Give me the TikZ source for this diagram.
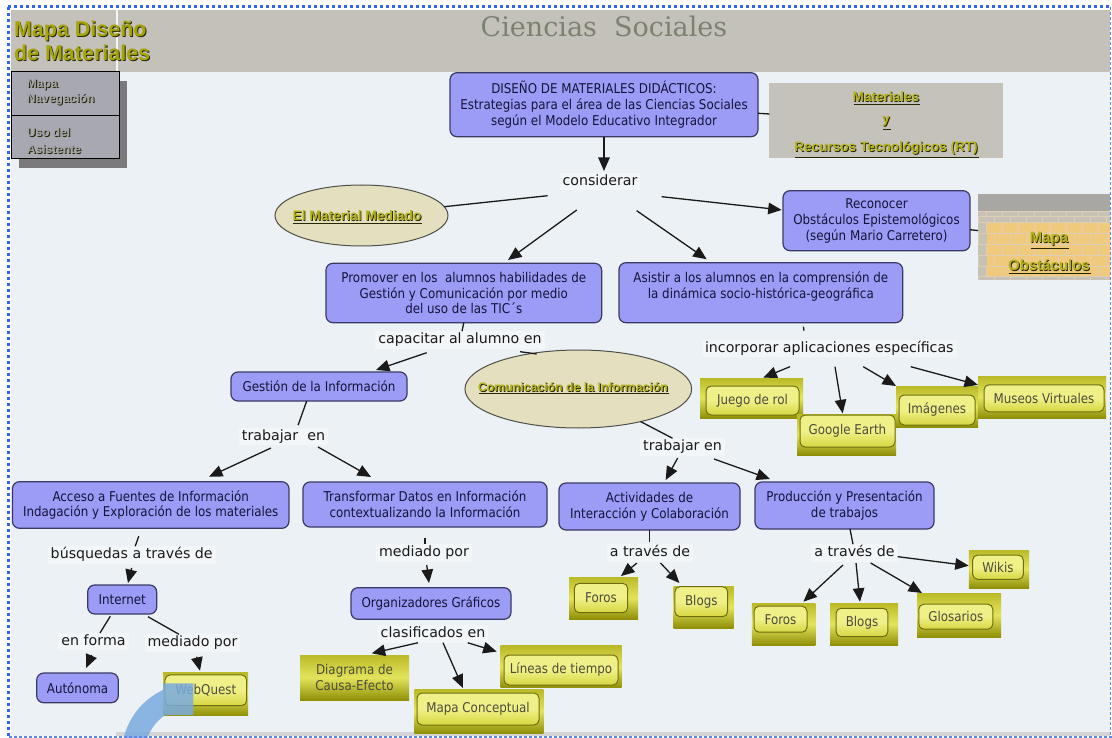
\documentclass[tikz,border=0pt]{standalone}
\usepackage{fontspec}
\setmainfont{DejaVu Sans}
\newfontfamily\sansfam{DejaVu Sans}
\newfontfamily\sanscond[FakeStretch=0.88]{DejaVu Sans}
\newfontfamily\seriffam{DejaVu Serif}
\newfontfamily\arialfam{Liberation Sans}
\usetikzlibrary{arrows.meta,shapes.geometric}

\definecolor{canvas}{HTML}{EBF1F4}
\definecolor{headergray}{HTML}{C4C1BB}
\definecolor{boxfill}{HTML}{9C9CF7}
\definecolor{boxedge}{HTML}{3A3A66}
\definecolor{boxtext}{HTML}{14143A}
\definecolor{linkbg}{HTML}{F2F6F8}
\definecolor{inktext}{HTML}{1A1A1A}
\definecolor{linecol}{HTML}{1A1A1A}
\definecolor{ellfill}{HTML}{E4DFBF}
\definecolor{elledge}{HTML}{505048}
\definecolor{olivelink}{HTML}{B4B41A}
\definecolor{olivehead}{HTML}{A5A508}
\definecolor{embossdark}{HTML}{262600}
\definecolor{titlegray}{HTML}{7C8170}
\definecolor{ytop}{HTML}{BABA28}
\definecolor{ymid}{HTML}{E4E45C}
\definecolor{ybot}{HTML}{909008}
\definecolor{yintop}{HTML}{F0F088}
\definecolor{yinbot}{HTML}{D6D640}
\definecolor{yinedge}{HTML}{6E6E10}
\definecolor{ytext}{HTML}{4C4C3A}
\definecolor{menufill}{HTML}{A7A8B2}
\definecolor{menushade}{HTML}{7A7A7C}
\definecolor{menutext}{HTML}{A2A2AA}
\definecolor{framedot}{HTML}{3366F0}
\definecolor{framedash}{HTML}{5F86EA}
\definecolor{strip}{HTML}{D4D4D4}
\definecolor{overlayblue}{HTML}{7AAAE0}
\definecolor{obsband}{HTML}{A9A7A3}
\definecolor{obsbrick}{HTML}{C8C2B6}
\definecolor{obstan}{HTML}{F1C97C}
\definecolor{brickline}{HTML}{DCCFB6}
\definecolor{matgray}{HTML}{C5C2BC}

% text with a dark drop shadow
\newcommand\embossed[7]{%
  \node[anchor=#2, font=#5, text=embossdark, inner sep=0pt] (#1-s) at (#3+1,#4+1) {#7};
  \node[anchor=#2, font=#5, text=#6, inner sep=0pt] (#1) at (#3,#4) {#7};}
% underlined hyperlink label with a dark drop shadow
\newcommand\embossedlink[5]{%
  \node[anchor=base, inner sep=0pt, text=embossdark,
        font=\arialfam\bfseries\fontsize{#4}{#4}\selectfont]
        (#1-s) at (#2+0.9, #3+0.36*#4+0.9) {\underline{#5}};
  \node[anchor=base, inner sep=0pt, text=olivelink,
        font=\arialfam\bfseries\fontsize{#4}{#4}\selectfont]
        (#1) at (#2, #3+0.36*#4) {#5};}

\begin{document}
\begin{tikzpicture}[x=1pt, y=-1pt, every node/.style={outer sep=0pt},
  bluebox/.style={rectangle, rounded corners=7pt, draw=boxedge, line width=1.2pt,
    fill=boxfill, text=boxtext, align=center, inner sep=0pt,
    font=\sanscond\fontsize{13.5}{15.8}\selectfont},
  linkph/.style={rectangle, fill=linkbg, text=inktext, inner xsep=3pt, inner ysep=2pt,
    text height=10.5pt, text depth=3pt, font=\sansfam\fontsize{14.2}{16}\selectfont},
  ellnode/.style={ellipse, draw=elledge, line width=1pt, fill=ellfill, inner sep=0pt},
  graybox/.style={rectangle, fill=matgray, inner sep=0pt},
  menubox/.style={rectangle, draw=black, line width=1pt, fill=menufill, inner sep=0pt},
  youter/.style={rectangle, inner sep=0pt, top color=ytop, bottom color=ybot, middle color=ymid,
    text=ytext, align=center, font=\sanscond\fontsize{13.5}{15.5}\selectfont},
  yinner/.style={rectangle, rounded corners=5pt, draw=yinedge, line width=1pt, inner sep=0pt,
    top color=yintop, bottom color=yinbot, middle color=yintop,
    text=ytext, align=center, font=\sanscond\fontsize{13.5}{15.5}\selectfont},
  ln/.style={draw=linecol, line width=1.3pt},
  arr/.style={ln, -{Triangle[length=13.5pt, width=11.5pt]}}]

\useasboundingbox (0,0) rectangle (1112,738);
\fill[white] (0,0) rectangle (1112,738);
\fill[canvas] (11,10) rectangle (1110,736);
\fill[headergray] (11,10) rectangle (1110,72);
\fill[white!85!headergray] (116,10) rectangle (118,72);
\fill[strip] (116,731.5) rectangle (1110,735.5);

% ---------- header ----------
\node[anchor=base, inner sep=0pt, text=titlegray, font=\seriffam\fontsize{27}{30}\selectfont]
  (title) at (604,37) {Ciencias\ \ Sociales};
\embossed{hdrA}{base west}{14}{37}{\arialfam\bfseries\fontsize{21.5}{24}\selectfont}{olivehead}{Mapa Diseño}
\embossed{hdrB}{base west}{14}{61}{\arialfam\bfseries\fontsize{21.5}{24}\selectfont}{olivehead}{de Materiales}

% ---------- side menu ----------
\fill[menushade] (19,81) rectangle (127,168);
\node[menubox, minimum width=108, minimum height=44] (nav) at (65,94) {};
\node[menubox, minimum width=108, minimum height=43] (helper) at (65,137.5) {};
\embossed{navA}{base west}{27}{88}{\arialfam\bfseries\fontsize{12}{14}\selectfont}{menutext}{Mapa}
\embossed{navB}{base west}{27}{103}{\arialfam\bfseries\fontsize{12}{14}\selectfont}{menutext}{Navegación}
\embossed{helpA}{base west}{27}{137}{\arialfam\bfseries\fontsize{12}{14}\selectfont}{menutext}{Uso del}
\embossed{helpB}{base west}{27}{154}{\arialfam\bfseries\fontsize{12}{14}\selectfont}{menutext}{Asistente}

% ---------- concepts ----------
\node[bluebox, minimum width=308, minimum height=64] (main) at (604,104.7)
  {DISEÑO DE MATERIALES DIDÁCTICOS:\\Estrategias para el área de las Ciencias Sociales\\según el Modelo Educativo Integrador};

\node[graybox, minimum width=234, minimum height=75.6] (materiales) at (886.3,120.5) {};
\embossedlink{matA}{886}{96.7}{13.6}{Materiales}
\embossedlink{matB}{886}{119}{13.6}{y}
\embossedlink{matC}{886}{146.7}{13.6}{Recursos Tecnológicos (RT)}

\node[linkph] (considerar) at (600,181.7) {considerar};

\node[ellnode, minimum width=173, minimum height=61] (material) at (361.5,215.5) {};
\embossedlink{materialtxt}{357}{216}{13.8}{El Material Mediado}

\node[bluebox, minimum width=187, minimum height=60] (reconocer) at (876.5,220.7)
  {Reconocer\\Obstáculos Epistemológicos\\(según Mario Carretero)};

% brick panel
\node[minimum width=134, minimum height=86, inner sep=0pt] (mapaobs) at (1045,237) {};
\begin{scope}
  \clip (978,194) rectangle (1110,280);
  \fill[obsband] (978,194) rectangle (1112,211);
  \fill[obsbrick] (978,211) rectangle (1112,280);
  \fill[obstan] (987,222) rectangle (1112,276.5);
  \foreach \ya/\yb [count=\k] in {211/216.5,216.5/222,222/233,233/244,244/255,255/266,266/276.5,276.5/280} {
    \draw[brickline, line width=0.8pt] (978,\ya) -- (1112,\ya);
    \pgfmathsetmacro\brickoff{mod(\k,2)*8}
    \foreach \i in {0,...,8} {
      \draw[brickline, line width=0.8pt] (978+\brickoff+16*\i,\ya) -- (978+\brickoff+16*\i,\yb);
    }
  }
\end{scope}
\embossedlink{obsA}{1049}{237.3}{15}{Mapa}
\embossedlink{obsB}{1049}{265}{15}{Obstáculos}

\node[bluebox, minimum width=275.7, minimum height=59.4] (promover) at (463.8,293)
  {Promover en los\ \ alumnos habilidades de\\Gestión y Comunicación por medio\\del uso de las TIC´s};
\node[bluebox, minimum width=283.7, minimum height=60] (asistir) at (760.8,292.7)
  {Asistir a los alumnos en la comprensión de\\la dinámica socio-histórica-geográfica\\\mbox{}};

\node[linkph] (capacitar) at (460,340) {capacitar al alumno en};
\node[linkph] (incorporar) at (829.3,348.3) {incorporar aplicaciones específicas};

\node[bluebox, minimum width=176, minimum height=29] (gestion) at (319,386.5) {Gestión de la Información};
\node[ellnode, minimum width=226.7, minimum height=78] (comunicacion) at (578.3,389) {};
\embossedlink{comtxt}{573}{386.7}{12.3}{Comunicación de la Información}

% applications
\node[youter, minimum width=103, minimum height=40] (juego) at (751.5,398) {};
\node[yinner, minimum width=93, minimum height=29] (juego-in) at (752.5,400.5) {Juego de rol};
\node[youter, minimum width=99, minimum height=41] (google) at (846.5,434.5) {};
\node[yinner, minimum width=95, minimum height=32] (google-in) at (847.5,431) {Google Earth};
\node[youter, minimum width=82, minimum height=41] (imagenes) at (937,406.5) {};
\node[yinner, minimum width=76, minimum height=30] (imagenes-in) at (937,410) {Imágenes};
\node[youter, minimum width=128, minimum height=42] (museos) at (1042,397) {};
\node[yinner, minimum width=120, minimum height=27] (museos-in) at (1044,398.3) {Museos Virtuales};

\node[linkph] (trabajarA) at (283.5,436.7) {trabajar\ \ en};
\node[linkph] (trabajarB) at (682.5,447) {trabajar en};

\node[bluebox, minimum width=276.5, minimum height=46.6] (acceso) at (150.7,505)
  {Acceso a Fuentes de Información\\Indagación y Exploración de los materiales};
\node[bluebox, minimum width=244, minimum height=45] (transformar) at (425,504.5)
  {Transformar Datos en Información\\contextualizando la Información};
\node[bluebox, minimum width=181, minimum height=47] (actividades) at (649.5,506.5)
  {Actividades de\\Interacción y Colaboración};
\node[bluebox, minimum width=179, minimum height=47] (produccion) at (844.5,505.5)
  {Producción y Presentación\\de trabajos};

\node[linkph] (busquedas) at (131.7,555) {búsquedas a través de};
\node[linkph] (mediadoA) at (424,553) {mediado por};
\node[linkph] (atravesA) at (650,553) {a través de};
\node[linkph] (atravesB) at (854.5,553) {a través de};

\node[youter, minimum width=60.3, minimum height=38] (wikis) at (998.9,569) {};
\node[yinner, minimum width=50.6, minimum height=24.3] (wikis-in) at (998,567.2) {Wikis};
\node[youter, minimum width=69, minimum height=42] (foros1) at (603.5,598) {};
\node[yinner, minimum width=53.4, minimum height=29.4] (foros1-in) at (601,598) {Foros};
\node[youter, minimum width=60, minimum height=42] (blogs1) at (703.5,607) {};
\node[yinner, minimum width=52.7, minimum height=30] (blogs1-in) at (701.3,601.7) {Blogs};
\node[youter, minimum width=63.5, minimum height=42] (foros2) at (783.7,624) {};
\node[yinner, minimum width=53, minimum height=26] (foros2-in) at (780.5,619.2) {Foros};
\node[youter, minimum width=68, minimum height=42] (blogs2) at (864,624) {};
\node[yinner, minimum width=51.8, minimum height=28.4] (blogs2-in) at (862,622.5) {Blogs};
\node[youter, minimum width=84, minimum height=44] (glosarios) at (959,615) {};
\node[yinner, minimum width=74, minimum height=25] (glosarios-in) at (955.8,616.7) {Glosarios};

\node[bluebox, minimum width=69, minimum height=29] (internet) at (122.2,599.5) {Internet};
\node[bluebox, minimum width=160, minimum height=31.6] (organizadores) at (431,603.5) {Organizadores Gráficos};

\node[linkph] (enforma) at (93.5,641.7) {en forma};
\node[linkph] (mediadoB) at (192.5,643) {mediado por};
\node[linkph] (clasificados) at (433,634) {clasificados en};

\node[bluebox, minimum width=81.6, minimum height=29.7] (autonoma) at (77.5,687.9) {Autónoma};
\node[youter, minimum width=85, minimum height=43.7] (webquest) at (205.5,693.9) {};
\node[yinner, minimum width=81.7, minimum height=30.7] (webquest-in) at (205.8,690.3) {WebQuest};

\node[youter, minimum width=109, minimum height=45] (diagrama) at (354.5,677.5) {Diagrama de\\Causa-Efecto};
\node[youter, minimum width=121, minimum height=41.7] (lineas) at (561.2,666.8) {};
\node[yinner, minimum width=114, minimum height=30] (lineas-in) at (561,670) {Líneas de tiempo};
\node[youter, minimum width=129, minimum height=44.3] (mapaconc) at (478.8,711.2) {};
\node[yinner, minimum width=122, minimum height=32] (mapaconc-in) at (478,709) {Mapa Conceptual};

% ---------- connectors ----------
\draw[arr, shorten >=2pt] (main.south) -- (main.south |- considerar.north);
\draw[ln] (main) -- (materiales);
\draw[ln, shorten <=12pt] ([yshift=-4pt]considerar.south west) -- (material);
\draw[arr, shorten <=33.2pt, shorten >=5.6pt] ([xshift=3.6pt]considerar.south) -- ([xshift=39.7pt]promover.north);
\draw[arr, shorten <=35.5pt, shorten >=6pt] ([xshift=7.5pt]considerar.south) -- ([xshift=-49.2pt]asistir.north);
\draw[arr, shorten <=21.3pt, shorten >=1.3pt] ([yshift=-3.9pt]considerar.south east) -- ([yshift=10.6pt]reconocer.west);
\draw[ln] (reconocer) -- (mapaobs);

\draw[ln] (promover.south) -- ([xshift=2pt]capacitar.north);
\draw[arr, shorten <=12.3pt, shorten >=6.2pt] ([xshift=-21.7pt]capacitar.south) -- ([xshift=51.1pt]gestion.north);
\draw[ln, shorten <=21.6pt] ([xshift=38.6pt]capacitar.south) -- ([xshift=-41.6pt, yshift=-4pt]comunicacion.north);

\draw[ln, shorten <=4pt, shorten >=9pt] ([xshift=42.2pt]asistir.south) -- ([xshift=-24.3pt]incorporar.north);
\draw[arr, shorten <=25.4pt, shorten >=1pt] ([xshift=-15.8pt]incorporar.south) -- ([xshift=10.9pt]juego.north);
\draw[arr, shorten <=9.8pt, shorten >=0.7pt] ([xshift=4.1pt]incorporar.south) -- ([xshift=-3.7pt]google.north);
\draw[arr, shorten <=19pt] ([xshift=17.6pt]incorporar.south) -- (imagenes.north west);
\draw[arr, shorten <=36.9pt] ([xshift=45.8pt]incorporar.south) -- ([yshift=-8.9pt]museos.north west);

\draw[ln, shorten >=3pt] ([xshift=-12.3pt]gestion.south) -- ([xshift=13.6pt]trabajarA.north);
\draw[arr, shorten <=6.1pt, shorten >=11.8pt] ([xshift=-7pt]trabajarA.south) -- ([xshift=47.6pt]acceso.north);
\draw[arr, shorten <=3.1pt, shorten >=10.1pt] ([xshift=31.8pt]trabajarA.south) -- ([xshift=76.8pt]transformar.north west);

\draw[ln] (comunicacion) -- ([xshift=-10pt]trabajarB.north);
\draw[arr, shorten <=2.6pt, shorten >=3.4pt] ([xshift=-3.6pt]trabajarB.south) -- ([xshift=14.5pt]actividades.north);
\draw[arr, shorten <=9.7pt, shorten >=8.9pt] ([xshift=22.4pt]trabajarB.south) -- ([xshift=23.4pt]produccion.north west);

\draw[ln, shorten >=2pt] (actividades.south) -- (actividades.south |- atravesA.north);
\draw[arr, shorten <=2pt, shorten >=1.5pt] ([xshift=-11.5pt]atravesA.south) -- ([xshift=16.3pt]foros1.north);
\draw[arr, shorten <=1.7pt, shorten >=4.2pt] ([xshift=9.3pt]atravesA.south) -- ([xshift=8.8pt]blogs1.north west);

\draw[ln] ([xshift=5.5pt]produccion.south) -- ([xshift=-1.5pt]atravesB.north);
\draw[arr, shorten <=4.8pt, shorten >=1.9pt] ([xshift=-8pt]atravesB.south) -- ([xshift=18.3pt]foros2.north);
\draw[arr, shorten <=1.3pt, shorten >=1.3pt] ([xshift=1.4pt]atravesB.south) -- ([xshift=-3.9pt]blogs2.north);
\draw[arr, shorten <=2.5pt] ([xshift=14pt]atravesB.south) -- ([xshift=5pt]glosarios.north west);
\draw[arr] ([yshift=-3.65pt]atravesB.east) -- ([yshift=3.3pt]wikis.west);

\draw[ln, shorten <=8.4pt] ([xshift=-9.1pt]acceso.south) -- ([xshift=3.5pt]busquedas.north);
\draw[arr, shorten <=4.4pt, shorten >=2pt] ([xshift=1pt]busquedas.south) -- ([xshift=5.3pt]internet.north);
\draw[ln, shorten <=2.7pt] ([xshift=-10.5pt]internet.south) -- ([xshift=6.5pt]enforma.north);
\draw[arr, shorten <=5pt, shorten >=5.5pt] ([xshift=0.2pt]enforma.south) -- ([xshift=6.3pt]autonoma.north);
\draw[ln, shorten <=5.5pt] ([xshift=21pt]internet.south) -- ([xshift=-13.6pt]mediadoB.north);
\draw[arr, shorten <=5.1pt, shorten >=1.3pt] ([xshift=3pt]mediadoB.south) -- ([xshift=-5.2pt]webquest.north);

\draw[ln, shorten <=11pt] (transformar.south) -- (transformar.south |- mediadoA.north);
\draw[arr, shorten <=3.3pt, shorten >=4.7pt] ([xshift=2.3pt]mediadoA.south) -- ([xshift=-1.4pt]organizadores.north);
\draw[arr, shorten >=7.6pt] ([xshift=-15pt]clasificados.south) -- ([xshift=9.8pt]diagrama.north);
\draw[arr, shorten >=1.1pt] ([xshift=10pt]clasificados.south) -- ([xshift=-15.4pt]mapaconc.north);
\draw[arr, shorten >=4.2pt] ([xshift=34.7pt]clasificados.south) -- ([yshift=-6.9pt]lineas.north west);

% ---------- translucent blue arc at the lower left ----------
\fill[overlayblue, fill opacity=0.85]
  (193.3,683.3) arc[start angle=-90, end angle=-180, radius=71.7]
  -- (144.3,755) arc[start angle=-180, end angle=-90, radius=49] -- cycle
  (163,683.3) rectangle (193.3,715);

% ---------- page frame ----------
\draw[framedot, line width=3pt, dash pattern=on 3pt off 3pt] (8,7) -- (1112,7);
\draw[framedot, line width=3pt, dash pattern=on 3pt off 3pt] (8.7,7) -- (8.7,738);
\draw[framedash, line width=1.2pt, dash pattern=on 3pt off 2pt] (1110.5,7) -- (1110.5,738);
\draw[framedash, line width=1.2pt, dash pattern=on 3pt off 2pt] (9,737) -- (1112,737);
\end{tikzpicture}
\end{document}
